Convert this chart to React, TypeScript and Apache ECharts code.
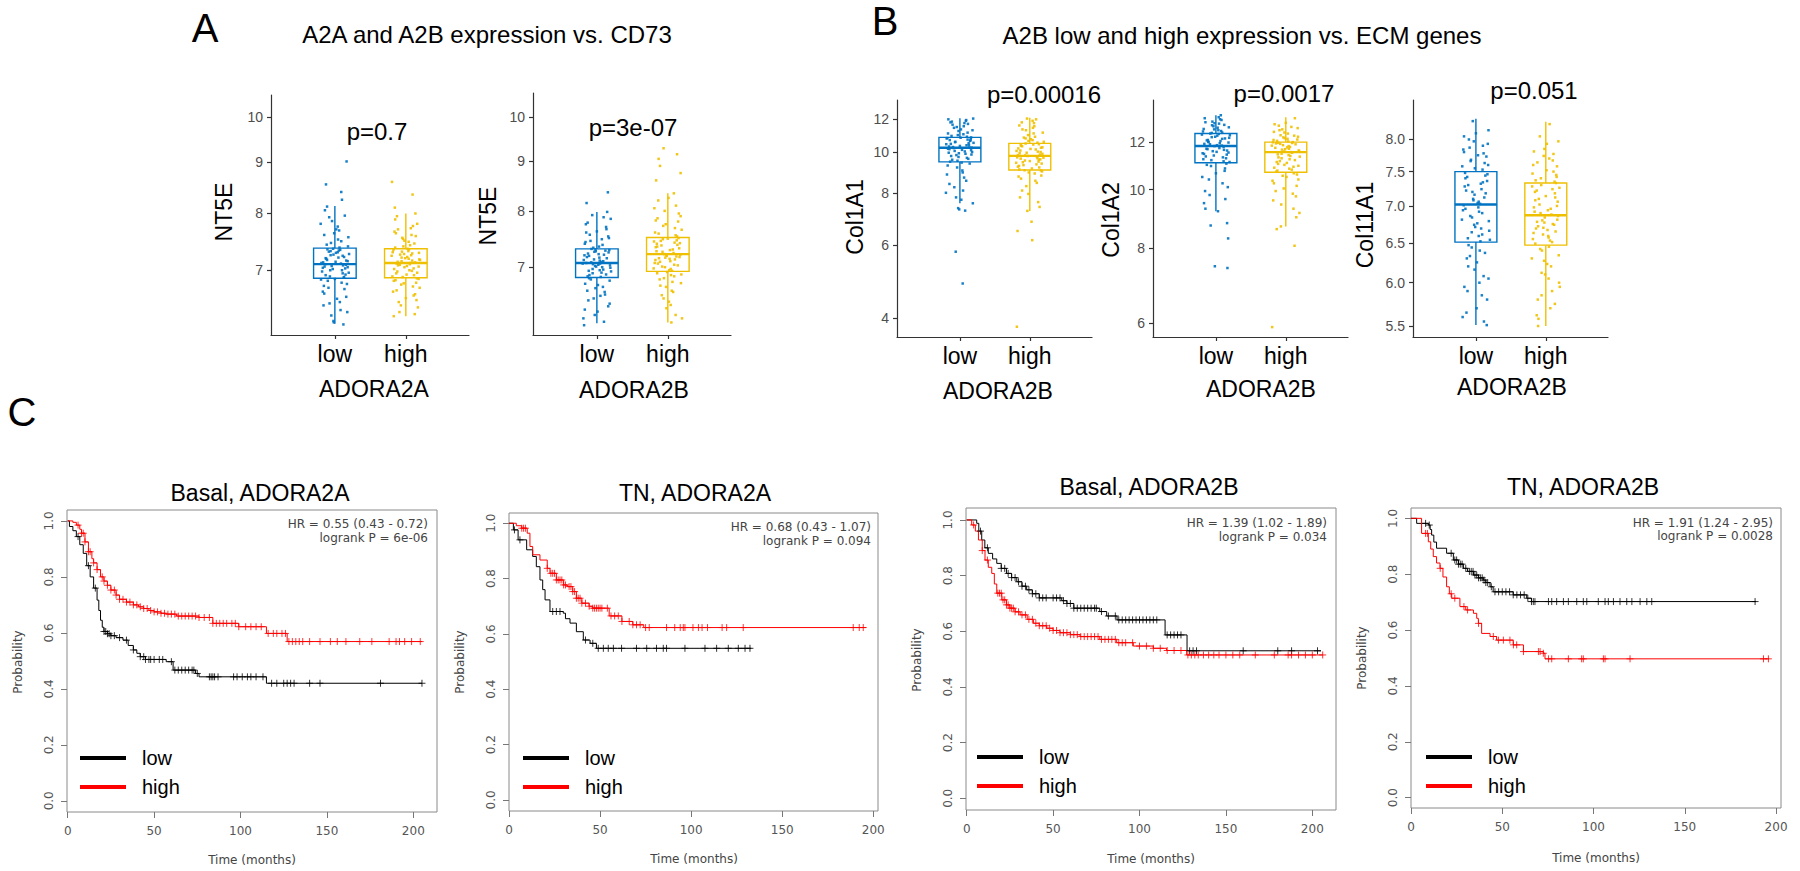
import React, { useEffect, useRef } from 'react';
import * as echarts from 'echarts';

// ---------- colours / fonts ----------
const BLUE = '#0073C2';
const YELLOW = '#EFC000';
const KM_BLACK = '#000000';
const KM_RED = '#FF0000';
const FONT = '"Liberation Sans", Arial, sans-serif';
const KMFONT = '"DejaVu Sans", sans-serif';
const PLUS = 'path://M4,0L4,8M0,4L8,4';

// ---------- box plot data ----------
const groups = ['low', 'high'];

// [lower whisker, Q1, median, Q3, upper whisker]
const a1Box = [[6.18, 6.87, 7.10, 7.37, 8.13], [6.29, 6.88, 7.12, 7.36, 7.99]];
const a2Box = [[6.13, 6.83, 7.07, 7.31, 7.98], [6.14, 6.93, 7.22, 7.51, 8.34]];
const b1Box = [[7.55, 9.49, 10.26, 10.86, 12.07], [7.24, 9.07, 9.81, 10.51, 12.1]];
const b2Box = [[9.21, 11.09, 11.82, 12.40, 13.3], [8.69, 10.69, 11.55, 12.0, 13.2]];
const b3Box = [[5.51, 6.51, 7.02, 7.50, 8.34], [5.5, 6.47, 6.87, 7.33, 8.29]];

const a1Low = [6.17, 6.22, 6.3, 6.38, 6.45, 6.5, 6.58, 6.63, 6.7, 6.75, 6.8, 6.85, 6.88, 6.9, 6.93, 6.95, 6.98, 7.0, 7.02, 7.04, 7.05, 7.07, 7.08, 7.1, 7.11, 7.13, 7.15, 7.17, 7.2, 7.22, 7.25, 7.27, 7.3, 7.32, 7.34, 7.36, 7.4, 7.46, 7.52, 7.6, 7.68, 7.75, 7.85, 7.95, 8.05, 8.12, 8.25, 8.55, 9.02,
  6.2, 6.35, 6.48, 6.55, 6.66, 6.72, 6.78, 6.83, 6.86, 6.89, 6.92, 6.96, 7.0, 7.03, 7.06, 7.09, 7.12, 7.14, 7.16, 7.19, 7.21, 7.24, 7.26, 7.29, 7.31, 7.33, 7.35, 7.38, 7.43, 7.49, 7.56, 7.63, 7.7, 7.8, 7.92, 8.4];
const a1High = [6.29, 6.35, 6.42, 6.5, 6.56, 6.62, 6.68, 6.72, 6.77, 6.8, 6.84, 6.87, 6.9, 6.93, 6.96, 6.98, 7.0, 7.03, 7.05, 7.07, 7.09, 7.1, 7.11, 7.12, 7.14, 7.16, 7.18, 7.2, 7.22, 7.24, 7.26, 7.28, 7.3, 7.32, 7.34, 7.36, 7.4, 7.45, 7.5, 7.55, 7.6, 7.66, 7.72, 7.8, 7.88, 7.99, 8.1, 8.35, 8.6,
  6.32, 6.45, 6.53, 6.6, 6.66, 6.74, 6.79, 6.83, 6.86, 6.89, 6.92, 6.95, 6.99, 7.02, 7.06, 7.08, 7.11, 7.13, 7.15, 7.17, 7.19, 7.21, 7.25, 7.27, 7.29, 7.31, 7.35, 7.38, 7.42, 7.48, 7.53, 7.58, 7.63, 7.7, 7.76, 7.94];
const a2Low = [6.1, 6.15, 6.25, 6.33, 6.42, 6.5, 6.56, 6.62, 6.68, 6.73, 6.78, 6.82, 6.85, 6.88, 6.9, 6.93, 6.95, 6.97, 7.0, 7.02, 7.03, 7.05, 7.06, 7.07, 7.09, 7.11, 7.13, 7.15, 7.17, 7.19, 7.21, 7.23, 7.25, 7.27, 7.29, 7.31, 7.35, 7.4, 7.45, 7.5, 7.56, 7.62, 7.7, 7.78, 7.85, 7.92, 7.98, 8.15, 8.36,
  6.2, 6.3, 6.38, 6.47, 6.54, 6.6, 6.66, 6.71, 6.8, 6.84, 6.87, 6.91, 6.94, 6.96, 6.99, 7.01, 7.04, 7.06, 7.08, 7.1, 7.12, 7.16, 7.2, 7.22, 7.26, 7.28, 7.3, 7.33, 7.38, 7.43, 7.48, 7.53, 7.6, 7.66, 7.75, 7.88];
const a2High = [6.14, 6.25, 6.35, 6.45, 6.55, 6.62, 6.7, 6.76, 6.8, 6.85, 6.88, 6.92, 6.95, 6.98, 7.01, 7.04, 7.07, 7.1, 7.12, 7.14, 7.16, 7.18, 7.2, 7.22, 7.24, 7.27, 7.3, 7.32, 7.35, 7.38, 7.4, 7.42, 7.44, 7.46, 7.48, 7.5, 7.55, 7.6, 7.68, 7.75, 7.82, 7.9, 8.0, 8.1, 8.2, 8.34, 8.6, 8.75, 8.9, 9.05, 9.15, 9.28,
  6.2, 6.4, 6.5, 6.6, 6.68, 6.74, 6.82, 6.87, 6.9, 6.94, 6.97, 7.0, 7.03, 7.06, 7.09, 7.13, 7.15, 7.17, 7.19, 7.21, 7.26, 7.29, 7.34, 7.37, 7.41, 7.45, 7.49, 7.53, 7.58, 7.65, 7.72, 7.8, 7.86, 7.95, 8.05, 8.25];
const b1Low = [4.85, 5.78, 7.25, 7.35, 7.55, 7.8, 8.1, 8.4, 8.7, 8.95, 9.2, 9.4, 9.5, 9.6, 9.7, 9.8, 9.88, 9.95, 10.02, 10.08, 10.14, 10.2, 10.24, 10.26, 10.3, 10.36, 10.42, 10.48, 10.54, 10.6, 10.65, 10.7, 10.75, 10.8, 10.84, 10.86, 10.95, 11.05, 11.15, 11.25, 11.35, 11.45, 11.55, 11.65, 11.75, 11.85, 11.95, 12.05,
  7.3, 7.7, 8.0, 8.25, 8.55, 8.85, 9.05, 9.3, 9.45, 9.55, 9.65, 9.75, 9.85, 9.92, 9.98, 10.05, 10.12, 10.18, 10.28, 10.33, 10.4, 10.46, 10.52, 10.58, 10.68, 10.73, 10.82, 10.9, 11.0, 11.1, 11.3, 11.5, 11.7, 11.8, 11.9, 12.0];
const b1High = [3.82, 6.16, 6.48, 6.82, 7.24, 7.6, 7.95, 8.3, 8.55, 8.75, 8.9, 9.05, 9.1, 9.2, 9.28, 9.36, 9.44, 9.5, 9.56, 9.62, 9.68, 9.73, 9.77, 9.8, 9.85, 9.92, 9.98, 10.04, 10.1, 10.16, 10.22, 10.28, 10.34, 10.4, 10.46, 10.5, 10.6, 10.7, 10.8, 10.9, 11.0, 11.15, 11.3, 11.45, 11.6, 11.75, 11.9, 12.05,
  7.4, 7.8, 8.1, 8.45, 8.65, 8.8, 8.95, 9.0, 9.06, 9.15, 9.24, 9.32, 9.4, 9.47, 9.53, 9.6, 9.66, 9.71, 9.83, 9.88, 9.95, 10.02, 10.08, 10.19, 10.26, 10.37, 10.44, 10.55, 10.65, 10.75, 10.85, 11.1, 11.35, 11.55, 11.8, 12.0];
const b2Low = [7.41, 7.46, 8.3, 8.72, 9.21, 9.5, 9.8, 10.1, 10.4, 10.65, 10.85, 11.0, 11.12, 11.2, 11.28, 11.36, 11.44, 11.5, 11.56, 11.62, 11.68, 11.73, 11.78, 11.82, 11.86, 11.9, 11.95, 12.0, 12.05, 12.1, 12.15, 12.2, 12.25, 12.3, 12.35, 12.4, 12.45, 12.5, 12.56, 12.62, 12.68, 12.75, 12.82, 12.9, 12.98, 13.06, 13.15, 13.3,
  8.8, 9.3, 9.65, 9.95, 10.25, 10.5, 10.75, 10.95, 11.05, 11.15, 11.24, 11.32, 11.4, 11.47, 11.53, 11.59, 11.65, 11.7, 11.84, 11.92, 11.98, 12.02, 12.08, 12.17, 12.23, 12.32, 12.38, 12.43, 12.52, 12.6, 12.7, 12.8, 12.88, 12.95, 13.1, 13.2];
const b2High = [5.91, 8.07, 8.69, 9.0, 9.3, 9.6, 9.85, 10.05, 10.25, 10.4, 10.55, 10.65, 10.72, 10.8, 10.88, 10.96, 11.04, 11.12, 11.2, 11.28, 11.35, 11.42, 11.48, 11.55, 11.58, 11.62, 11.66, 11.7, 11.74, 11.78, 11.82, 11.86, 11.9, 11.94, 11.97, 12.0, 12.06, 12.12, 12.18, 12.25, 12.32, 12.4, 12.48, 12.56, 12.66, 12.78, 12.92, 13.15,
  8.6, 9.15, 9.45, 9.75, 9.95, 10.15, 10.35, 10.5, 10.6, 10.76, 10.84, 10.92, 11.0, 11.08, 11.16, 11.24, 11.32, 11.38, 11.45, 11.52, 11.6, 11.68, 11.76, 11.84, 11.92, 11.96, 11.99, 12.03, 12.1, 12.15, 12.22, 12.3, 12.45, 12.6, 12.72, 12.85];
const b3Low = [5.51, 5.6, 5.7, 5.8, 5.9, 6.0, 6.08, 6.16, 6.25, 6.33, 6.4, 6.47, 6.52, 6.56, 6.61, 6.66, 6.71, 6.76, 6.81, 6.86, 6.9, 6.94, 6.98, 7.01, 7.04, 7.08, 7.12, 7.16, 7.2, 7.24, 7.28, 7.32, 7.36, 7.4, 7.44, 7.48, 7.53, 7.58, 7.63, 7.68, 7.73, 7.78, 7.84, 7.9, 7.97, 8.05, 8.15, 8.3,
  5.55, 5.65, 5.85, 5.95, 6.05, 6.2, 6.3, 6.37, 6.44, 6.54, 6.59, 6.64, 6.69, 6.74, 6.79, 6.84, 6.92, 6.96, 7.03, 7.06, 7.1, 7.18, 7.22, 7.3, 7.34, 7.42, 7.46, 7.55, 7.6, 7.66, 7.75, 7.8, 7.87, 7.93, 8.0, 8.1];
const b3High = [5.5, 5.62, 5.75, 5.85, 5.95, 6.05, 6.12, 6.2, 6.27, 6.34, 6.4, 6.45, 6.49, 6.53, 6.57, 6.61, 6.65, 6.69, 6.72, 6.75, 6.78, 6.81, 6.84, 6.86, 6.9, 6.94, 6.98, 7.02, 7.06, 7.1, 7.14, 7.18, 7.22, 7.26, 7.3, 7.33, 7.37, 7.42, 7.47, 7.52, 7.58, 7.64, 7.7, 7.77, 7.85, 7.93, 8.05, 8.25,
  5.58, 5.7, 5.8, 5.9, 6.0, 6.1, 6.23, 6.3, 6.42, 6.51, 6.55, 6.59, 6.63, 6.67, 6.7, 6.74, 6.77, 6.8, 6.88, 6.92, 6.96, 7.0, 7.08, 7.12, 7.2, 7.24, 7.28, 7.35, 7.4, 7.45, 7.5, 7.6, 7.67, 7.74, 7.81, 7.97];

// horizontal jitter offsets (in category units)
const jitter = [0.12, -0.07, 0.18, -0.15, 0.03, -0.19, 0.09, -0.02, 0.15, -0.11, 0.06, -0.17, 0.01, 0.19, -0.05, 0.11, -0.13, 0.04, -0.09, 0.16, -0.01, 0.08, -0.18, 0.13, -0.04, 0.17, -0.12, 0.02, -0.16, 0.1, -0.06, 0.14, -0.1, 0.05, -0.2, 0.07, -0.03, 0.2, -0.14, 0.0, 0.11, -0.08, 0.16, -0.17, 0.04, -0.11, 0.13, -0.02, 0.09, -0.15, 0.18, -0.06, 0.1, -0.13,
  0.015, -0.185, 0.135, -0.045, 0.075, -0.125, 0.195, -0.085, 0.035, -0.155, 0.115, -0.025, 0.165, -0.065, 0.055, -0.175, 0.095, -0.135, 0.185, -0.015, 0.145, -0.105, 0.025, -0.195, 0.085, -0.055, 0.175, -0.145, 0.065, -0.035, 0.125, -0.165, 0.045, -0.075, 0.155, -0.115];

const nt5eTicks = [7, 8, 9, 10];
const col1a1Ticks = [4, 6, 8, 10, 12];
const col1a2Ticks = [6, 8, 10, 12];
const col11a1Ticks = [5.5, 6, 6.5, 7, 7.5, 8];

const boxPanels = [
  { yName: 'NT5E', xName: 'ADORA2A', p: 'p=0.7', box: a1Box, low: a1Low, high: a1High, ticks: nt5eTicks, dec: 0 },
  { yName: 'NT5E', xName: 'ADORA2B', p: 'p=3e-07', box: a2Box, low: a2Low, high: a2High, ticks: nt5eTicks, dec: 0 },
  { yName: 'Col1A1', xName: 'ADORA2B', p: 'p=0.00016', box: b1Box, low: b1Low, high: b1High, ticks: col1a1Ticks, dec: 0 },
  { yName: 'Col1A2', xName: 'ADORA2B', p: 'p=0.0017', box: b2Box, low: b2Low, high: b2High, ticks: col1a2Ticks, dec: 0 },
  { yName: 'Col11A1', xName: 'ADORA2B', p: 'p=0.051', box: b3Box, low: b3Low, high: b3High, ticks: col11a1Ticks, dec: 1 },
];

// ---------- Kaplan-Meier data: [months, survival probability] ----------
const km1Low = [[0, 1], [1, 0.98], [3, 0.965], [5, 0.944], [7, 0.915], [9, 0.884], [11, 0.84], [13, 0.8], [15, 0.76], [17, 0.717], [18, 0.68], [19, 0.645], [20, 0.62], [21, 0.605], [23, 0.597], [25, 0.59], [28, 0.583], [32, 0.574], [35, 0.555], [38, 0.539], [40, 0.527], [42, 0.515], [45, 0.505], [57, 0.497], [61, 0.467], [74, 0.455], [76, 0.443], [115, 0.42], [205, 0.42]];
const km1High = [[0, 1], [3, 0.995], [5, 0.985], [7, 0.97], [8, 0.956], [10, 0.925], [12, 0.89], [14, 0.865], [15, 0.85], [17, 0.826], [19, 0.8], [21, 0.785], [23, 0.77], [25, 0.753], [28, 0.735], [30, 0.72], [34, 0.71], [38, 0.7], [41, 0.693], [44, 0.687], [47, 0.68], [50, 0.675], [54, 0.67], [57, 0.667], [63, 0.66], [76, 0.655], [84, 0.634], [99, 0.622], [115, 0.598], [127, 0.569], [205, 0.569]];
const km1LowCens = [6, 12, 16, 21, 22, 23, 24, 25, 27, 30, 34, 38, 42, 44, 45, 47, 48, 50, 53, 55, 60, 62, 64, 66, 68, 70, 72, 73, 75, 82, 83, 84, 85, 87, 96, 98, 101, 104, 106, 109, 113, 118, 121, 125, 127, 129, 131, 140, 146, 181, 205];
const km1HighCens = [6, 8, 9, 10, 12, 13, 15, 17, 20, 21, 23, 25, 27, 28, 30, 32, 34, 36, 38, 40, 42, 44, 46, 48, 50, 52, 54, 56, 58, 60, 62, 64, 66, 68, 70, 72, 74, 76, 79, 82, 84, 86, 88, 90, 92, 95, 97, 99, 103, 106, 109, 112, 116, 119, 121, 124, 126, 128, 130, 132, 134, 136, 140, 146, 152, 156, 161, 169, 176, 186, 190, 192, 195, 199, 204];

const km2Low = [[0, 1], [2.4, 0.976], [5, 0.94], [9.7, 0.904], [13, 0.88], [15, 0.843], [17, 0.795], [18.5, 0.76], [19.8, 0.723], [22.5, 0.681], [29.8, 0.675], [31, 0.655], [33.5, 0.639], [37, 0.608], [40.8, 0.578], [44.5, 0.566], [48, 0.548], [133, 0.548]];
const km2High = [[0, 1], [4, 0.991], [7, 0.982], [10, 0.964], [11.5, 0.916], [13, 0.886], [17, 0.867], [21, 0.837], [22.5, 0.819], [26, 0.795], [30, 0.777], [32, 0.771], [35, 0.753], [37, 0.729], [40, 0.711], [44, 0.7], [46, 0.693], [55, 0.665], [62, 0.645], [68, 0.633], [74, 0.623], [196, 0.623]];
const km2LowCens = [3, 6, 24, 26, 28, 42, 46, 49, 51.8, 54.5, 57.3, 61.8, 70, 75.6, 81, 84.7, 86.5, 96.6, 107.6, 114, 120.4, 125.9, 129.6, 132.3];
const km2HighCens = [7, 8, 9, 21, 23, 24, 25, 26, 27, 28, 29, 30, 31, 33, 34, 35, 36, 37, 38, 39, 40, 42, 44, 46, 47, 48, 49, 50, 51, 54, 56, 58, 60, 62, 66, 68, 70, 72, 75, 77, 86.5, 91, 94, 95.7, 96.6, 101, 104, 106, 109, 117, 119.5, 128.6, 189, 192.3, 194.5];

const km3Low = [[0, 1], [5.8, 0.988], [7, 0.96], [8.7, 0.928], [10.5, 0.9], [12.5, 0.88], [15, 0.86], [17.4, 0.844], [20, 0.826], [23, 0.808], [26, 0.793], [29, 0.778], [32, 0.762], [34.7, 0.749], [38, 0.735], [42, 0.72], [55, 0.71], [58, 0.7], [62, 0.683], [77, 0.671], [81, 0.655], [87, 0.641], [114.8, 0.587], [127.5, 0.53], [205, 0.53]];
const km3High = [[0, 1], [2.9, 0.982], [5, 0.96], [6.8, 0.928], [9, 0.89], [10.6, 0.856], [12.5, 0.83], [14.5, 0.808], [16, 0.77], [17.4, 0.737], [20.3, 0.713], [23, 0.695], [25, 0.683], [28, 0.67], [30.9, 0.659], [35, 0.643], [38.6, 0.629], [42, 0.62], [46.3, 0.611], [50, 0.603], [54, 0.595], [60, 0.588], [65.6, 0.581], [77, 0.571], [86.8, 0.559], [96.4, 0.547], [108, 0.539], [115.7, 0.531], [127.3, 0.515], [206, 0.515]];
const km3LowCens = [8, 12, 20, 22, 24, 26, 28, 30, 32, 34, 36, 38, 40, 42, 44, 46, 50, 52, 54, 56, 58, 60, 62, 64, 66, 68, 70, 72, 74, 75, 78, 82, 86, 88, 90, 92, 94, 96, 98, 100, 102, 104, 106, 108, 110, 116, 118, 120, 122, 124, 129, 131, 133, 160, 180, 188, 203];
const km3HighCens = [4, 9, 12, 18, 19, 20, 21, 22, 23, 24, 25, 26, 27, 28, 30, 32, 34, 36, 38, 40, 42, 44, 46, 48, 50, 52, 54, 56, 58, 60, 62, 64, 66, 68, 70, 72, 74, 76, 78, 80, 82, 84, 86, 88, 90, 92, 96, 100, 104, 108, 112, 116, 120, 124, 128, 130, 132, 134, 137, 140, 143, 146, 150, 154, 158, 167, 178, 186, 188, 192, 196, 200, 206];

const km4Low = [[0, 1], [3.1, 0.982], [9.5, 0.976], [10.5, 0.96], [11.3, 0.94], [12.5, 0.915], [14, 0.893], [19.5, 0.875], [23.2, 0.851], [26, 0.836], [28.7, 0.821], [31, 0.81], [34.2, 0.797], [37, 0.787], [39.6, 0.779], [41, 0.77], [43.3, 0.755], [45, 0.737], [56, 0.726], [63.4, 0.714], [66, 0.702], [189, 0.702]];
const km4High = [[0, 1], [5.8, 0.946], [9.5, 0.916], [10.8, 0.89], [12.2, 0.863], [14, 0.84], [15.9, 0.821], [17.5, 0.79], [19.5, 0.755], [21, 0.73], [22.3, 0.714], [26.8, 0.684], [30, 0.672], [34.2, 0.66], [36, 0.642], [36.9, 0.624], [38.7, 0.588], [43.3, 0.577], [46.9, 0.564], [56, 0.547], [61.6, 0.523], [72.5, 0.517], [73.4, 0.497], [196, 0.497]];
const km4LowCens = [8, 10, 22, 24, 25, 26, 27, 28, 30, 32, 33, 34, 35, 36, 37, 38, 39, 40, 41, 42, 44, 46, 48, 50, 52, 54, 56, 58, 60, 62, 64, 66, 67, 67.9, 75.3, 77.1, 79.8, 83.5, 86.2, 90.8, 94.4, 96.3, 102.6, 106.3, 108.1, 110.9, 114.5, 118.2, 121, 125.5, 129.2, 131.9, 188.5];
const km4HighCens = [8, 9, 16, 22, 24, 29, 31, 37, 45.1, 47.9, 50.6, 54.2, 56.1, 57.9, 61.6, 69.8, 70.7, 72.5, 75.3, 77.1, 86.2, 93.5, 94.4, 105.4, 106.3, 120, 193.1, 195.8];

const kmXTicks = [0, 50, 100, 150, 200];
const kmYTicks = [0, 0.2, 0.4, 0.6, 0.8, 1.0];

const kmPanels = [
  { title: 'Basal, ADORA2A', hr: 'HR = 0.55 (0.43 - 0.72)', lr: 'logrank P = 6e-06', low: km1Low, high: km1High, lowCens: km1LowCens, highCens: km1HighCens },
  { title: 'TN, ADORA2A', hr: 'HR = 0.68 (0.43 - 1.07)', lr: 'logrank P = 0.094', low: km2Low, high: km2High, lowCens: km2LowCens, highCens: km2HighCens },
  { title: 'Basal, ADORA2B', hr: 'HR = 1.39 (1.02 - 1.89)', lr: 'logrank P = 0.034', low: km3Low, high: km3High, lowCens: km3LowCens, highCens: km3HighCens },
  { title: 'TN, ADORA2B', hr: 'HR = 1.91 (1.24 - 2.95)', lr: 'logrank P = 0.0028', low: km4Low, high: km4High, lowCens: km4LowCens, highCens: km4HighCens },
];

// ---------- layout (pixels) ----------
const boxGrids = [
  { left: 271, top: 95, width: 198, height: 240, yMin: 6.02, yMax: 10.53 },
  { left: 533, top: 93, width: 198, height: 242, yMin: 5.96, yMax: 10.58 },
  { left: 897, top: 100, width: 195, height: 237, yMin: 3.61, yMax: 13.35 },
  { left: 1153, top: 100, width: 195, height: 237, yMin: 5.69, yMax: 14.1 },
  { left: 1413, top: 100, width: 195, height: 237, yMin: 5.38, yMax: 8.66 },
];
const boxText = [
  { p: [377, 131], yName: [224, 212], xName: [374, 389] },
  { p: [633, 127], yName: [488, 216], xName: [634, 390] },
  { p: [1044, 94], yName: [855, 217], xName: [998, 391] },
  { p: [1284, 93], yName: [1111, 220], xName: [1261, 389] },
  { p: [1534, 90], yName: [1365, 225], xName: [1512, 387] },
];
const kmGrids = [
  { left: 67, top: 510, width: 370, height: 302, xMin: -0.4, xMax: 213.7, yMin: -0.04, yMax: 1.039 },
  { left: 509, top: 513, width: 369, height: 298, xMin: 0, xMax: 202.6, yMin: -0.04, yMax: 1.037 },
  { left: 966, top: 508, width: 370, height: 302, xMin: -0.4, xMax: 213.7, yMin: -0.042, yMax: 1.043 },
  { left: 1411, top: 508, width: 370, height: 300, xMin: 0, xMax: 202.7, yMin: -0.037, yMax: 1.037 },
];
const kmText = [
  { title: [260, 493], hrX: 428, hrY: [524, 538], prob: [18, 662], time: [252, 860], legend: [80, 748] },
  { title: [695, 493], hrX: 871, hrY: [527, 541], prob: [460, 662], time: [694, 859], legend: [523, 748] },
  { title: [1149, 487], hrX: 1327, hrY: [523, 537], prob: [917, 660], time: [1151, 859], legend: [977, 747] },
  { title: [1583, 487], hrX: 1773, hrY: [523, 536], prob: [1362, 658], time: [1596, 858], legend: [1426, 747] },
];

function stepValue(curve: number[][], t: number) {
  let v = curve[0][1];
  for (const [x, y] of curve) {
    if (x <= t) v = y;
    else break;
  }
  return v;
}

function txt(text: string, x: number, y: number, size: number, opts: any = {}) {
  return {
    type: 'text',
    x,
    y,
    rotation: opts.rotation || 0,
    silent: true,
    z: 10,
    style: {
      text,
      fill: opts.color || '#000',
      fontSize: size,
      fontFamily: opts.family || FONT,
      textAlign: opts.align || 'center',
      textVerticalAlign: 'middle',
    },
  };
}

function buildOption() {
  const grid: any[] = [];
  const xAxis: any[] = [];
  const yAxis: any[] = [];
  const series: any[] = [];
  const graphic: any[] = [];
  const legend: any[] = [];

  const axisDark = { color: '#333', width: 1.2 };

  // ----- box plots -----
  boxPanels.forEach((bp, i) => {
    const g = boxGrids[i];
    grid.push({ left: g.left, top: g.top, width: g.width, height: g.height, outerBoundsMode: 'none' });
    xAxis.push({
      type: 'value', gridIndex: i, min: 0.1, max: 2.89,
      axisLine: { show: true, onZero: false, lineStyle: axisDark },
      axisTick: { show: true, customValues: [1, 2], length: 4, lineStyle: axisDark },
      axisLabel: {
        show: true, customValues: [1, 2], margin: 7,
        formatter: (v: number) => groups[Math.round(v) - 1],
        fontSize: 23, fontFamily: FONT, color: '#000',
      },
      splitLine: { show: false },
    });
    yAxis.push({
      type: 'log', logBase: 10, gridIndex: i, min: g.yMin, max: g.yMax,
      axisLine: { show: true, onZero: false, lineStyle: axisDark },
      axisTick: { show: true, customValues: bp.ticks, length: 4, lineStyle: axisDark },
      axisLabel: {
        show: true, customValues: bp.ticks, margin: 8,
        formatter: (v: number) => (bp.dec ? Number(v).toFixed(bp.dec) : String(Math.round(v))),
        fontSize: 14, fontFamily: FONT, color: '#4d4d4d',
      },
      minorTick: { show: false },
      splitLine: { show: false },
    });

    series.push({
      type: 'custom', name: `${bp.yName} box ${i}`, xAxisIndex: i, yAxisIndex: i, z: 2,
      encode: { x: 0, y: [1, 2, 3, 4, 5] },
      data: bp.box.map((b, k) => [k + 1, ...b]),
      renderItem: (params: any, api: any) => {
        const x = api.value(0);
        const mn = api.value(1), q1 = api.value(2), md = api.value(3), q3 = api.value(4), mx = api.value(5);
        const color = params.dataIndex === 0 ? BLUE : YELLOW;
        const pl = api.coord([x - 0.3, md]);
        const pr = api.coord([x + 0.3, md]);
        const cx = api.coord([x, md])[0];
        const yMn = api.coord([x, mn])[1];
        const yQ1 = api.coord([x, q1])[1];
        const yQ3 = api.coord([x, q3])[1];
        const yMx = api.coord([x, mx])[1];
        const st = { stroke: color, lineWidth: 1.4, fill: 'none' };
        return {
          type: 'group',
          children: [
            { type: 'line', shape: { x1: cx, y1: yMx, x2: cx, y2: yQ3 }, style: st },
            { type: 'line', shape: { x1: cx, y1: yQ1, x2: cx, y2: yMn }, style: st },
            { type: 'rect', shape: { x: pl[0], y: yQ3, width: pr[0] - pl[0], height: yQ1 - yQ3 }, style: { stroke: color, lineWidth: 1.4, fill: '#fff' } },
            { type: 'line', shape: { x1: pl[0], y1: pl[1], x2: pr[0], y2: pr[1] }, style: { stroke: color, lineWidth: 2.4 } },
          ],
        };
      },
    });

    [bp.low, bp.high].forEach((vals, k) => {
      series.push({
        type: 'scatter', name: `${bp.xName} ${groups[k]} ${i}`, xAxisIndex: i, yAxisIndex: i, z: 3,
        symbol: 'rect', symbolSize: 2.5,
        itemStyle: { color: k === 0 ? BLUE : YELLOW, opacity: 0.9 },
        data: vals.map((v, j) => [k + 1 + jitter[(j * 7 + (i * 2 + k) * 11) % jitter.length], v]),
      });
    });

    const t = boxText[i];
    graphic.push(txt(bp.p, t.p[0], t.p[1], 24));
    graphic.push(txt(bp.yName, t.yName[0], t.yName[1], 23, { rotation: Math.PI / 2 }));
    graphic.push(txt(bp.xName, t.xName[0], t.xName[1], 23));
  });

  // ----- KM plots -----
  kmPanels.forEach((kp, j) => {
    const idx = boxPanels.length + j;
    const g = kmGrids[j];
    grid.push({ left: g.left, top: g.top, width: g.width, height: g.height, show: true, borderColor: '#8a8a8a', borderWidth: 1, outerBoundsMode: 'none' });
    xAxis.push({
      type: 'value', gridIndex: idx, min: g.xMin, max: g.xMax,
      axisLine: { show: false, onZero: false },
      axisTick: { show: true, customValues: kmXTicks, length: 6, lineStyle: { color: '#777' } },
      axisLabel: { show: true, customValues: kmXTicks, margin: 13, fontSize: 12, fontFamily: KMFONT, color: '#555' },
      splitLine: { show: false },
    });
    yAxis.push({
      type: 'value', gridIndex: idx, min: g.yMin, max: g.yMax,
      axisLine: { show: false, onZero: false },
      axisTick: { show: true, customValues: kmYTicks, length: 6, lineStyle: { color: '#777' } },
      axisLabel: {
        show: true, customValues: kmYTicks, margin: 12, rotate: 90,
        formatter: (v: number) => Number(v).toFixed(1),
        fontSize: 12, fontFamily: KMFONT, color: '#555',
      },
      splitLine: { show: false },
    });
  });

  // lines first (legend colours come from the first series with each name)
  kmPanels.forEach((kp, j) => {
    const idx = boxPanels.length + j;
    series.push({
      type: 'line', name: 'low', xAxisIndex: idx, yAxisIndex: idx, step: 'end', showSymbol: false, symbol: 'none', z: 3,
      data: kp.low, lineStyle: { color: KM_BLACK, width: 1 }, itemStyle: { color: KM_BLACK },
    });
    series.push({
      type: 'line', name: 'high', xAxisIndex: idx, yAxisIndex: idx, step: 'end', showSymbol: false, symbol: 'none', z: 3,
      data: kp.high, lineStyle: { color: KM_RED, width: 1 }, itemStyle: { color: KM_RED },
    });
  });
  kmPanels.forEach((kp, j) => {
    const idx = boxPanels.length + j;
    series.push({
      type: 'scatter', name: 'low', xAxisIndex: idx, yAxisIndex: idx, z: 4,
      symbol: PLUS, symbolSize: 7,
      itemStyle: { color: KM_BLACK, borderColor: KM_BLACK, borderWidth: 1 },
      data: kp.lowCens.map((t) => [t, stepValue(kp.low, t)]),
    });
    series.push({
      type: 'scatter', name: 'high', xAxisIndex: idx, yAxisIndex: idx, z: 4,
      symbol: PLUS, symbolSize: 7,
      itemStyle: { color: KM_RED, borderColor: KM_RED, borderWidth: 1 },
      data: kp.highCens.map((t) => [t, stepValue(kp.high, t)]),
    });

    const t = kmText[j];
    graphic.push(txt(kp.title, t.title[0], t.title[1], 23));
    graphic.push(txt(kp.hr, t.hrX, t.hrY[0], 12, { align: 'right', family: KMFONT, color: '#444' }));
    graphic.push(txt(kp.lr, t.hrX, t.hrY[1], 12, { align: 'right', family: KMFONT, color: '#444' }));
    graphic.push(txt('Probability', t.prob[0], t.prob[1], 12, { rotation: Math.PI / 2, family: KMFONT, color: '#444' }));
    graphic.push(txt('Time (months)', t.time[0], t.time[1], 12, { family: KMFONT, color: '#444' }));

    legend.push({
      left: t.legend[0], top: t.legend[1], orient: 'vertical', padding: 0,
      data: ['low', 'high'], icon: 'rect', itemWidth: 46, itemHeight: 4, itemGap: 9,
      selectedMode: false,
      textStyle: { fontSize: 20, fontFamily: FONT, color: '#000', lineHeight: 20, padding: [0, 0, 0, 11] },
    });
  });

  // panel letters and titles
  graphic.push(txt('A', 205, 28, 40));
  graphic.push(txt('B', 885, 21, 40));
  graphic.push(txt('C', 22, 412, 40));
  graphic.push(txt('A2A and A2B expression vs. CD73', 487, 34, 24));
  graphic.push(txt('A2B low and high expression vs. ECM genes', 1242, 35, 24));

  return {
    animation: false,
    backgroundColor: '#ffffff',
    grid,
    xAxis,
    yAxis,
    legend,
    series,
    graphic,
  };
}

export default function App() {
  const ref = useRef<HTMLDivElement>(null);
  useEffect(() => {
    if (!ref.current) return;
    const chart = echarts.init(ref.current, null, { renderer: 'svg' });
    chart.setOption(buildOption() as any);
    return () => chart.dispose();
  }, []);
  return (
    <div
      ref={ref}
      style={{ position: 'absolute', left: 0, top: 0, width: 1800, height: 871, background: '#fff' }}
    />
  );
}
